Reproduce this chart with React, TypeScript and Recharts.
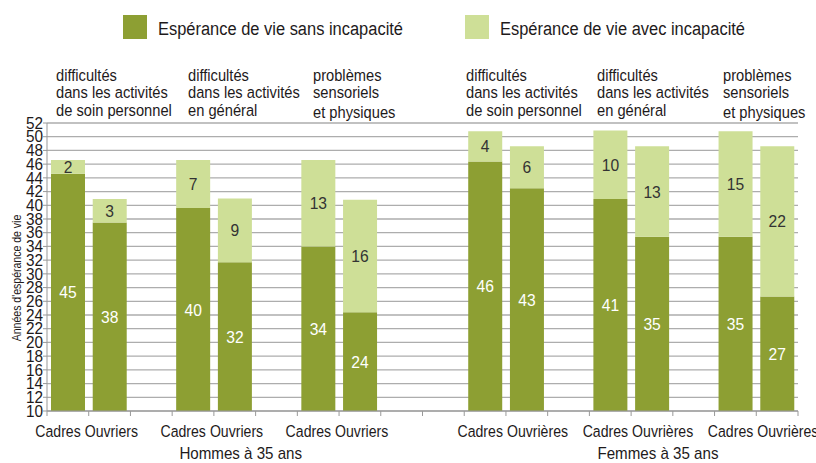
import React from 'react';
import { BarChart, Bar, XAxis, YAxis, CartesianGrid, LabelList, Customized } from 'recharts';

const categories = ['Cadres', 'Ouvriers', '', 'Cadres', 'Ouvriers', '', 'Cadres', 'Ouvriers', '', '', 'Cadres', 'Ouvrières', '', 'Cadres', 'Ouvrières', '', 'Cadres', 'Ouvrières'];
const sansIncapacite = [44.6, 37.5, null, 39.6, 31.7, null, 34.0, 24.4, null, null, 46.4, 42.5, null, 40.9, 35.4, null, 35.4, 26.7];
const avecIncapacite = [2.0, 3.4, null, 7.0, 9.3, null, 12.6, 16.4, null, null, 4.4, 6.1, null, 10.0, 13.2, null, 15.4, 21.9];
const yTicks = [10, 12, 14, 16, 18, 20, 22, 24, 26, 28, 30, 32, 34, 36, 38, 40, 42, 44, 46, 48, 50, 52];
const groupTitles = ['Hommes à 35 ans', 'Femmes à 35 ans'];
const headerTexts = [
  ['difficultés', 'dans les activités', 'de soin personnel'],
  ['difficultés', 'dans les activités', 'en général'],
  ['problèmes', 'sensoriels', 'et physiques'],
];
const legendLabels = ['Espérance de vie sans incapacité', 'Espérance de vie avec incapacité'];
const yAxisTitle = "Années d'espérance de vie";

const data = categories.map((c, i) => ({
  id: 'c' + i,
  name: c,
  sans: sansIncapacite[i],
  avec: avecIncapacite[i],
}));

const W = 816;
const H = 463;
const MARGIN = { top: 123, right: 18, bottom: 0, left: 7 };
const Y_W = 40;
const X_H = 52;
const PLOT_W = W - MARGIN.left - MARGIN.right - Y_W;
const BW = PLOT_W / categories.length;

const DARK = '#8d9f33';
const LIGHT = '#cedf97';
const TEXT = '#1e1a1b';
const GRID = '#adadad';
const AXIS = '#999999';
const FF = "'Liberation Sans', Arial, sans-serif";

const HEADER_X = [56, 188, 313, 466, 597, 723];
const HEADER_BASE = [81, 98, 116];
const TITLE_TICK = { 4: 0, 14: 1 } as Record<number, number>;

const NText = ({ x, y, size, sx, anchor = 'start', fill = TEXT, children, rotate }: any) => (
  <text
    x={0}
    y={0}
    transform={`translate(${x} ${y})${rotate ? ` rotate(${rotate})` : ''} scale(${sx} 1)`}
    textAnchor={anchor}
    fontSize={size}
    fontFamily={FF}
    fill={fill}
  >
    {children}
  </text>
);

const XTick = (props: any) => {
  const { x, y, index } = props;
  const label = categories[index] || '';
  const left = x - BW / 2;
  const right = x + BW / 2;
  const isLast = index === categories.length - 1;
  const men = index < 9;
  return (
    <g>
      <line x1={left} y1={y} x2={left} y2={y + 5} stroke={AXIS} strokeWidth={1} />
      {isLast && <line x1={right} y1={y} x2={right} y2={y + 5} stroke={AXIS} strokeWidth={1} />}
      {label === 'Cadres' && (
        <NText x={right + (men ? -8 : -3)} y={y + 26} size={17.2} sx={0.82} anchor="end">
          {label}
        </NText>
      )}
      {label.startsWith('Ouvri') && (
        <NText x={left + (men ? -4 : 1)} y={y + 26} size={17.2} sx={0.82} anchor="start">
          {label}
        </NText>
      )}
      {TITLE_TICK[index] !== undefined && (
        <NText x={x + 6} y={y + 48} size={17} sx={0.89} anchor="middle">
          {groupTitles[TITLE_TICK[index]]}
        </NText>
      )}
    </g>
  );
};

const YTick = (props: any) => {
  const { x, y, payload } = props;
  return (
    <NText x={x} y={y + 5.7} size={16.5} sx={0.93} anchor="end">
      {payload.value}
    </NText>
  );
};

const makeBarLabel = (fill: string) => (props: any) => {
  const { x, y, width, height, value } = props;
  if (value == null || !height) return null;
  return (
    <NText x={x + width / 2} y={y + height / 2 + 6} size={17} sx={0.92} anchor="middle" fill={fill}>
      {String(Math.round(Number(value)))}
    </NText>
  );
};

const Decorations = () => (
  <g>
    <rect x={123} y={15} width={24} height={24} fill={DARK} />
    <NText x={158} y={35} size={18.6} sx={0.885}>{legendLabels[0]}</NText>
    <rect x={465} y={15} width={24} height={24} fill={LIGHT} />
    <NText x={500} y={35} size={18.6} sx={0.885}>{legendLabels[1]}</NText>
    {HEADER_X.map((hx, gi) =>
      headerTexts[gi % 3].map((t, li) => (
        <NText key={gi + '-' + li} x={hx} y={HEADER_BASE[li] + (gi % 3 === 2 && li === 2 ? 2 : 0)} size={16.5} sx={0.89}>
          {t}
        </NText>
      ))
    )}
    <NText x={21} y={278} size={13.5} sx={0.78} anchor="middle" rotate={-90}>
      {yAxisTitle}
    </NText>
  </g>
);

export default function App() {
  return (
    <div style={{ position: 'absolute', left: 0, top: 0, width: W, height: H, background: '#fff' }}>
      <BarChart width={W} height={H} data={data} margin={MARGIN} barSize={34}>
        <CartesianGrid vertical={false} stroke={GRID} strokeWidth={1.3} />
        <XAxis
          dataKey="id"
          interval={0}
          height={X_H}
          tickLine={false}
          tickSize={0}
          tickMargin={0}
          axisLine={{ stroke: AXIS }}
          tick={<XTick />}
        />
        <YAxis
          width={Y_W}
          domain={[10, 52]}
          ticks={yTicks}
          interval={0}
          allowDataOverflow
          tickSize={4}
          tickMargin={0}
          axisLine={{ stroke: AXIS }}
          tickLine={{ stroke: AXIS }}
          tick={<YTick />}
        />
        <Bar dataKey="sans" stackId="a" fill={DARK} isAnimationActive={false}>
          <LabelList dataKey="sans" position="center" content={makeBarLabel('#ffffff')} />
        </Bar>
        <Bar dataKey="avec" stackId="a" fill={LIGHT} isAnimationActive={false}>
          <LabelList dataKey="avec" position="center" content={makeBarLabel('#333333')} />
        </Bar>
        <Customized component={Decorations} />
      </BarChart>
    </div>
  );
}
